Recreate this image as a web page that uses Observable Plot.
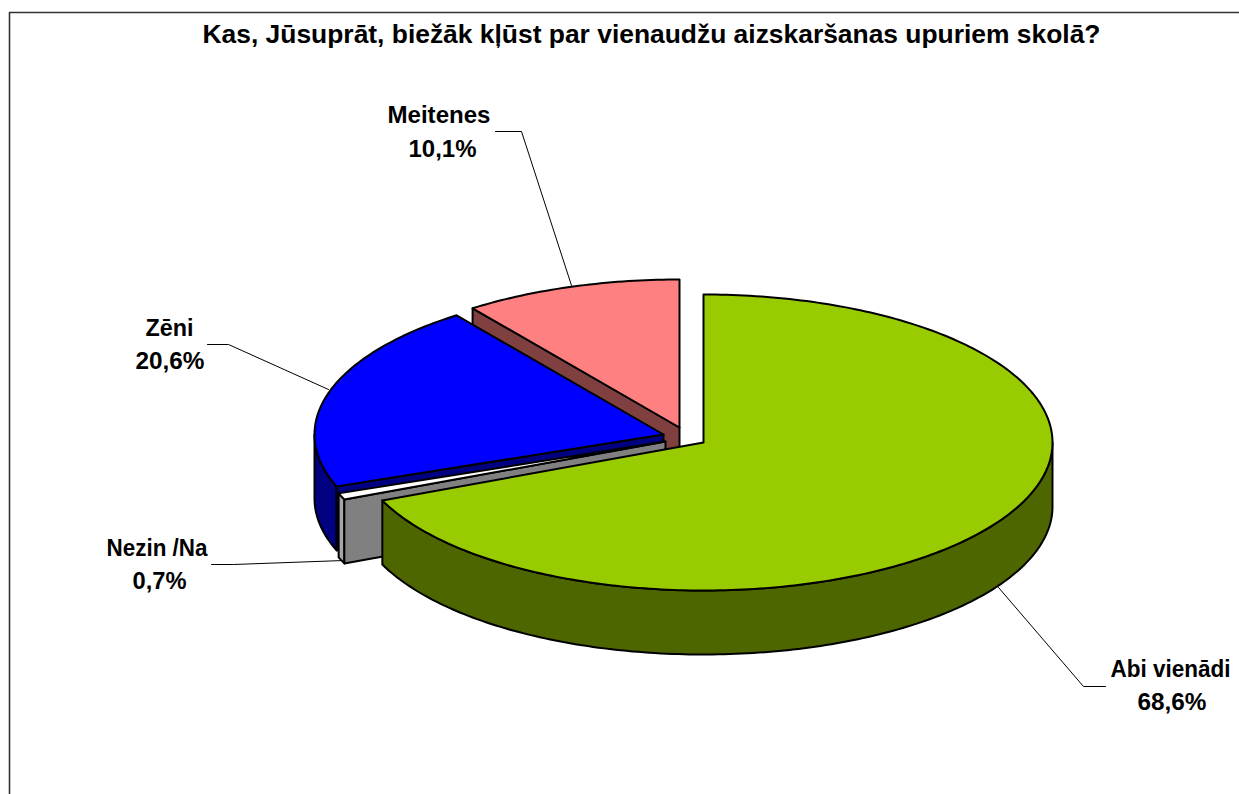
<!DOCTYPE html>
<html><head><meta charset="utf-8">
<script src="https://cdn.jsdelivr.net/npm/d3@7"></script>
<script src="https://cdn.jsdelivr.net/npm/@observablehq/plot@0.6"></script>
<style>html,body{margin:0;padding:0;background:#fff}svg{display:block}</style>
</head><body><div id="chart"></div>
<script>
const chartTitle = "Kas, Jūsuprāt, biežāk kļūst par vienaudžu aizskaršanas upuriem skolā?";
const categories = ["Abi vienādi", "Nezin /Na", "Zēni", "Meitenes"];
const shares = [68.6, 0.7, 20.6, 10.1];
const topColors = ["#99CC00", "#FFFFFF", "#0000FF", "#FF8080"];
const sideColors = ["#4D6600", "#808080", "#000080", "#804040"];

// layout of the drawing
const W = 1239, H = 794, RX = 349, RY = 148, DEPTH = 64;
const centers = [[703, 442], [665, 441], [663, 434], [679, 427]];
const leaders = [
  [[998, 587], [1083, 686], [1105, 686]],
  [[343, 560], [233, 564], [211, 564]],
  [[328, 389], [228, 344], [207, 344]],
  [[571, 285], [521, 131], [495, 131]]
];
// name x, name baseline, name width, value x, value baseline, value width
const labelPos = [
  [1170, 676, 120, 1171.5, 709, 69],
  [156.5, 555, 101, 159, 588, 54],
  [169, 335, 48, 169.5, 368, 69],
  [438.5, 122, 103, 442, 156, 68]
];

const total = d3.sum(shares);
let acc = 0;
const slices = shares.map((v, i) => {
  const a0 = acc / total * 2 * Math.PI; acc += v;
  const a1 = acc / total * 2 * Math.PI;
  return {i, a0, a1, cx: centers[i][0], cy: centers[i][1]};
});
const pt = (s, a, dz = 0) => ({x: s.cx + RX * Math.sin(a), y: s.cy - RY * Math.cos(a) + dz});
const arc = (s, a0, a1, dz = 0) => {
  const n = Math.max(2, Math.ceil(Math.abs(a1 - a0) * 60));
  return d3.range(n + 1).map(k => pt(s, a0 + (a1 - a0) * k / n, dz));
};
const close = p => [...p, p[0]];
const topFace = s => close([{x: s.cx, y: s.cy}, ...arc(s, s.a0, s.a1)]);
const wall = (s, a0, a1) => close([...arc(s, a0, a1), ...arc(s, a1, a0, DEPTH)]);
const cutFace = (s, a) => {
  const e = pt(s, a);
  return close([{x: s.cx, y: s.cy}, e, {x: e.x, y: e.y + DEPTH}, {x: s.cx, y: s.cy + DEPTH}]);
};
const poly = (data, fill) => Plot.line(data, {x: "x", y: "y", fill, stroke: "#000", strokeWidth: 2, strokeLinejoin: "round"});
const [green, gray, blue, pink] = slices;
const label = i => shares[i].toFixed(1).replace(".", ",") + "%";
const xy = p => ({x: p[0], y: p[1]});
const textStyle = {fontFamily: "'Liberation Sans', Arial, sans-serif", fontWeight: "bold", fill: "#000", lineAnchor: "bottom"};

const chart = Plot.plot({
  width: W, height: H, margin: 0,
  x: {domain: [0, W], range: [0, W], axis: null},
  y: {domain: [0, H], range: [0, H], axis: null},
  marks: [
    Plot.line([{x: 9, y: H}, {x: 9, y: 12}, {x: W, y: 12}], {x: "x", y: "y", stroke: "#333", strokeWidth: 1.6}),
    Plot.text([chartTitle], {x: () => 651, y: () => 42, text: d => d, fontSize: 26, ...textStyle}),
    ...leaders.map(l => Plot.line(l.map(xy), {x: "x", y: "y", stroke: "#000", strokeWidth: 1})),
    // back to front: Meitenes, Zēni, Nezin /Na, Abi vienādi
    poly(cutFace(pink, pink.a0), sideColors[3]),
    poly(topFace(pink), topColors[3]),
    poly(wall(blue, blue.a0, 1.5 * Math.PI), sideColors[2]),
    poly(cutFace(blue, blue.a0), sideColors[2]),
    poly(topFace(blue), topColors[2]),
    poly(wall(gray, gray.a0, gray.a1), "#A6A6A6"),
    poly(cutFace(gray, gray.a0), sideColors[1]),
    poly(topFace(gray), topColors[1]),
    poly(wall(green, 0.5 * Math.PI, green.a1), sideColors[0]),
    poly(topFace(green), topColors[0]),
    Plot.text(categories, {x: (d, i) => labelPos[i][0], y: (d, i) => labelPos[i][1], text: d => d, fontSize: 24, ...textStyle}),
    Plot.text(categories, {x: (d, i) => labelPos[i][3], y: (d, i) => labelPos[i][4], text: (d, i) => label(i), fontSize: 24, ...textStyle})
  ]
});
// fit each text to the width it has in the reference
const widths = new Map([[chartTitle, 898]]);
categories.forEach((c, i) => { widths.set(c, labelPos[i][2]); widths.set(label(i), labelPos[i][5]); });
chart.querySelectorAll("text").forEach(t => {
  const w = widths.get(t.textContent);
  if (w) { t.setAttribute("textLength", w); t.setAttribute("lengthAdjust", "spacingAndGlyphs"); }
});
document.getElementById("chart").append(chart);
</script></body></html>
